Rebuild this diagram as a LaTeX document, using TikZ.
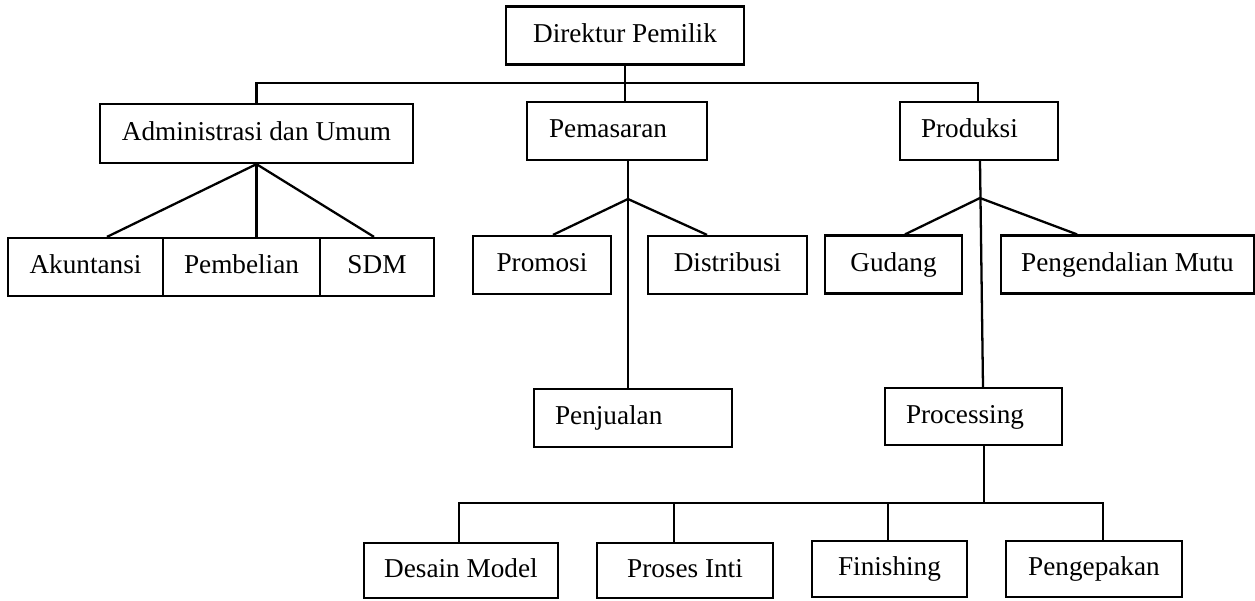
\documentclass[tikz,border=0pt]{standalone}
\usepackage{fontspec}
\setmainfont{Liberation Serif}
\usepackage{tikz}

\tikzset{
  box/.style={draw, line width=1.3pt, inner sep=0pt, minimum height=1.16cm,
    text height=11pt, text depth=3.5pt,
    font=\fontsize{15.5}{18}\selectfont},
  leftbox/.style 2 args={box, align=left, inner xsep=#1, text width=#2},
  link/.style={line width=1.3pt}
}

\begin{document}
\begin{tikzpicture}[x=0.02cm, y=-0.02cm]
  \useasboundingbox (0,0) rectangle (1255,600);

  % top levels
  \node[box, minimum width=4.76cm] (dir) at (625,35.5) {Direktur Pemilik};
  \node[box, minimum width=6.26cm, minimum height=1.18cm] (adm) at (256.5,133.5) {Administrasi dan Umum};
  \node[leftbox={0.44cm}{2.72cm}] (pem) at (617,131) {Pemasaran};
  \node[leftbox={0.42cm}{2.32cm}] (prod) at (979,131) {Produksi};

  % under Administrasi dan Umum
  \node[box, minimum width=3.10cm] (aku) at (85.5,267) {Akuntansi};
  \node[box, minimum width=3.14cm] (pbl) at (241.5,267) {Pembelian};
  \node[box, minimum width=2.28cm] (sdm) at (377,267) {SDM};

  % under Pemasaran
  \node[box, minimum width=2.76cm] (pro) at (542,265) {Promosi};
  \node[box, minimum width=3.18cm] (dis) at (727.5,265) {Distribusi};
  \node[leftbox={0.42cm}{3.12cm}] (jual) at (633,418) {Penjualan};

  % under Produksi
  \node[box, minimum width=2.74cm] (gud) at (893.5,264.5) {Gudang};
  \node[box, minimum width=5.06cm] (mut) at (1127.5,264.5) {Pengendalian Mutu};
  \node[leftbox={0.42cm}{2.70cm}, minimum height=1.14cm] (proc) at (973.5,416.5) {Processing};

  % under Processing
  \node[box, minimum width=3.88cm, minimum height=1.10cm] (des) at (461,570.5) {Desain Model};
  \node[box, minimum width=3.52cm, minimum height=1.10cm] (inti) at (685,570.5) {Proses Inti};
  \node[box, minimum width=3.10cm, minimum height=1.12cm] (fin) at (889.5,569) {Finishing};
  \node[box, minimum width=3.52cm, minimum height=1.12cm] (pak) at (1094,569) {Pengepakan};

  \coordinate (topbar) at (625,83);
  \coordinate (pemfork) at (628,199);
  \coordinate (prodfork) at (980,198);
  \coordinate (procbar) at (984,503);

  % connectors
  \draw[link] (dir.south) -- (dir.south |- pem.north);
  \draw[link] (adm.north) |- (topbar) -| ([xshift=-0.02cm]prod.north);

  \draw[link] ([xshift=0.43cm]aku.north) -- (adm.south) -- ([xshift=-0.06cm]sdm.north);
  \draw[link] (adm.south) -- (adm.south |- pbl.north);

  \draw[link] (pemfork |- pem.south) -- (pemfork |- jual.north);
  \draw[link] ([xshift=0.22cm]pro.north) -- (pemfork) -- ([xshift=-0.41cm]dis.north);

  \draw[link] (prodfork |- prod.south) -- ([xshift=0.19cm]proc.north);
  \draw[link] ([xshift=0.23cm]gud.north) -- (prodfork) -- ([xshift=-1.01cm]mut.north);

  \draw[link] (procbar |- proc.south) -- (procbar);
  \draw[link] ([xshift=-0.04cm]des.north) |- (procbar) -| ([xshift=0.18cm]pak.north);
  \draw[link] ([xshift=-0.22cm]inti.north) -- ([xshift=-0.22cm]inti.north |- procbar);
  \draw[link] ([xshift=-0.03cm]fin.north) -- ([xshift=-0.03cm]fin.north |- procbar);
\end{tikzpicture}
\end{document}
